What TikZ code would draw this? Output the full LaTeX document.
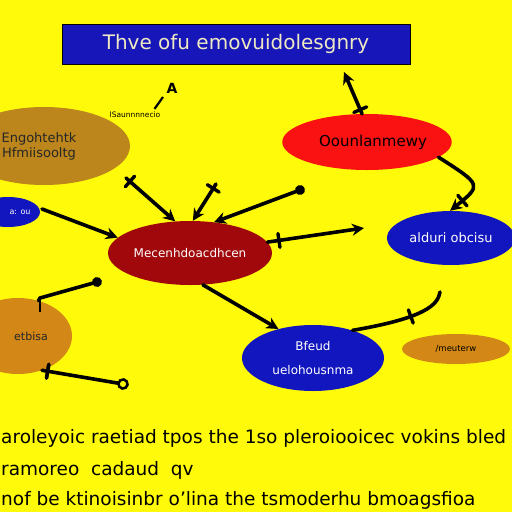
\documentclass[tikz,border=0pt]{standalone}
\usepackage{fontspec}
\setsansfont{DejaVu Sans}
\usetikzlibrary{shapes.geometric,arrows.meta,decorations.markings}
\definecolor{bgyel}{RGB}{255,250,10}
\definecolor{titleblue}{RGB}{22,22,185}
\definecolor{nblue}{RGB}{18,22,190}
\definecolor{nbrown}{RGB}{188,134,28}
\definecolor{norange}{RGB}{210,135,22}
\definecolor{ndred}{RGB}{160,8,12}
\definecolor{nred}{RGB}{250,18,18}
\definecolor{pale}{RGB}{238,232,195}
\tikzset{
  oval/.style={ellipse, inner sep=0pt, align=center, font=\sffamily\fontsize{13}{15}\selectfont},
  conn/.style={line width=3.6pt, line cap=round, -{Stealth[length=12pt,width=12pt]}},
  plainconn/.style={line width=3.6pt, line cap=round},
  xbar/.style={postaction={decorate}, decoration={markings, mark=at position #1 with {\draw[line width=3.4pt,-] (0,-7pt)--(0,7pt);}}},
  dotstart/.style={postaction={decorate}, decoration={markings, mark=at position 0 with {\fill (0,0) circle (5pt);}}},
  dotend/.style={postaction={decorate}, decoration={markings, mark=at position 1 with {\fill (0,0) circle (5pt);}}},
  ringend/.style={postaction={decorate}, decoration={markings, mark=at position 1 with {\draw[line width=2.4pt,fill=bgyel] (0,0) circle (4.5pt);}}},
  bottomtxt/.style={anchor=west, inner sep=0pt, font=\sffamily\fontsize{18.5}{20}\selectfont},
}
\begin{document}
\begin{tikzpicture}[x=1pt,y=-1pt]
\useasboundingbox (0,0) rectangle (512,512);
\fill[bgyel] (0,0) rectangle (512,512);
% title
\node[draw=black, line width=0.6pt, fill=titleblue, minimum width=348pt, minimum height=40pt, inner sep=0pt,
  text=pale, font=\sffamily\fontsize{20}{24}\selectfont] (title) at (236,44) {Thve ofu emovuidolesgnry};
% ellipses
\node[oval, fill=nbrown, minimum width=172pt, minimum height=78pt, text=black!85] (lb) at (44,146) {\hspace*{-10pt}Engohtehtk\\ \hspace*{-10pt}Hfmiisooltg};
\node[oval, fill=nblue, minimum width=64pt, minimum height=30pt, text=white, font=\sffamily\fontsize{8}{9}\selectfont] (lbl) at (8,212) {\hspace*{24pt}a: ou};
\node[oval, fill=ndred, minimum width=164pt, minimum height=64pt, text=white, font=\sffamily\fontsize{12}{14}\selectfont] (ctr) at (190,253) {Mecenhdoacdhcen};
\node[oval, fill=nred, minimum width=162pt, minimum height=56pt, text=black, font=\sffamily\fontsize{15}{17}\selectfont] (tr) at (367,142) {\hspace*{12pt}Oounlanmewy};
\node[oval, fill=nblue, minimum width=128pt, minimum height=54pt, text=white] (rb) at (451,238) {alduri obcisu};
\node[oval, fill=nblue, minimum width=142pt, minimum height=66pt, text=white, font=\sffamily\fontsize{12}{24}\selectfont] (bc) at (313,358) {Bfeud\\ uelohousnma};
\node[oval, fill=norange, minimum width=108pt, minimum height=30pt, text=black, font=\sffamily\fontsize{8.5}{9}\selectfont] (br) at (456,349) {/meuterw};
\node[oval, fill=norange, minimum width=108pt, minimum height=76pt, text=black!85, font=\sffamily\fontsize{11}{12}\selectfont] (lo) at (18,336) {\hspace*{26pt}etbisa};
% small labels
\node[font=\sffamily\bfseries\fontsize{14}{15}\selectfont, inner sep=0pt] (lblA) at (172,88) {A};
\node[font=\sffamily\fontsize{7.5}{8}\selectfont, inner sep=0pt] (lblS) at (135,115) {lSaunnnnecio};
\coordinate (tA) at (163,97);
\draw[line width=2.2pt] (lblS.north east) ++(-6,-3) coordinate (tS) -- (tA);
% connector free ends
\coordinate (c1) at (126,178);
\coordinate (c2) at (216,184);
\coordinate (c3) at (300,190);
\coordinate (c4) at (364,228);
\coordinate (c5) at (42,209);
\coordinate (c7) at (344,72);
\coordinate (c9) at (440,292);
\coordinate (c10) at (97,282);
\coordinate (c11) at (123,384);
% connectors
\draw[conn, xbar=0.08] (c1) -- (ctr.115);
\draw[conn, xbar=0.12] (c2) -- (ctr.85);
\draw[conn, dotstart] (c3) -- (ctr.52);
\draw[conn, xbar=0.12] (ctr.8) -- (c4);
\draw[conn] (c5) -- (ctr.168);
\draw[conn] (ctr.-68) -- (bc.140);
\draw[conn, xbar=0.1] (tr.100) -- (c7);
\draw[conn, xbar=0.8] (tr.-12) .. controls (482,185) .. (rb.92);
\draw[plainconn, xbar=0.4] (c9) .. controls (438,305) and (425,318) .. (bc.35);
\draw[plainconn, dotend] (lo.60) -- (40,298) -- (c10);
\draw[line width=2pt] (40,298) -- (40,312);
\draw[plainconn, xbar=0.07, ringend] (lo.-55) -- (c11);
% bottom text
\node[bottomtxt] (t1) at (1,438) {aroleyoic raetiad tpos the 1so pleroiooicec vokins bled};
\node[bottomtxt] (t2) at (1,470) {ramoreo\ \ cadaud\ \ qv};
\node[bottomtxt] (t3) at (1,500) {nof be ktinoisinbr o'lina the tsmoderhu bmoagsfioa};
\end{tikzpicture}
\end{document}
